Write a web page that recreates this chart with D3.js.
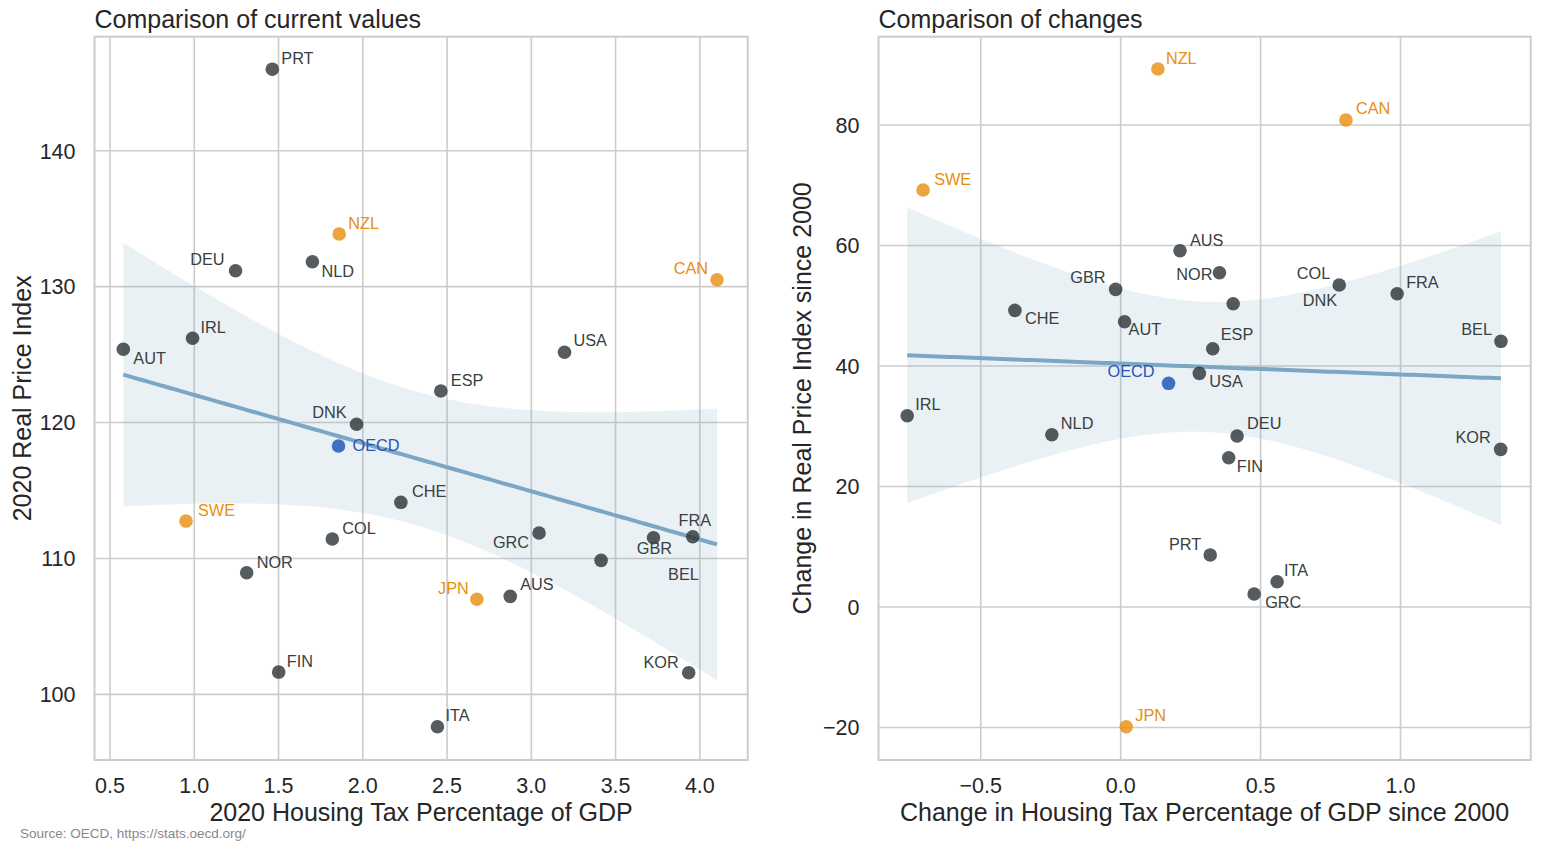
<!DOCTYPE html>
<html>
<head>
<meta charset="utf-8">
<script src="https://cdn.jsdelivr.net/npm/d3@7"></script>
<style>
  body { margin: 0; background: #fff; }
  svg { font-family: "Liberation Sans", Arial, sans-serif; }
</style>
</head>
<body>
<svg id="chart" width="1541" height="852"></svg>
<script>
// country codes, one row per point
const countries = ["AUS","AUT","BEL","CAN","CHE","COL","DEU","DNK","ESP","FIN","FRA","GBR",
  "GRC","IRL","ITA","JPN","KOR","NLD","NOR","NZL","PRT","SWE","USA","OECD"];

// left panel: 2020 levels
const taxGdp2020 = [2.875,0.579,3.414,4.102,2.226,1.819,1.245,1.963,2.463,1.501,3.958,3.725,
  3.046,0.990,2.443,2.677,3.934,1.701,1.311,1.860,1.463,0.951,3.197,1.856];
const realPrice2020 = [107.21,125.39,109.86,130.51,114.13,111.43,131.17,119.87,122.32,101.64,111.60,111.52,
  111.87,126.20,97.62,107.0,101.59,131.83,108.95,133.87,146.0,112.75,125.17,118.27];

// right panel: changes since 2000
const taxChange = [0.212,0.014,1.359,0.805,-0.378,0.781,0.416,0.402,0.329,0.386,0.988,-0.018,
  0.477,-0.763,0.559,0.020,1.358,-0.246,0.353,0.133,0.320,-0.706,0.281,0.171];
const priceChange = [59.14,47.35,44.10,80.83,49.24,53.44,28.38,50.34,42.87,24.78,52.00,52.73,
  2.16,31.75,4.20,-19.87,26.17,28.60,55.49,89.29,8.63,69.21,38.78,37.13];

const highlighted = ["NZL","CAN","SWE","JPN"];

const leftTicksX = [0.5,1.0,1.5,2.0,2.5,3.0,3.5,4.0];
const leftTicksY = [100,110,120,130,140];
const rightTicksX = [-0.5,0.0,0.5,1.0];
const rightTicksY = [-20,0,20,40,60,80];

// label nudges (like adjustText did), [dx, dy, anchor]
const leftLabelPos = {
  PRT:[9,-5,'start'], NZL:[9,-5,'start'], DEU:[-11,-6,'end'], NLD:[9,15,'start'],
  IRL:[8,-5,'start'], AUT:[10,15,'start'], DNK:[-10,-6,'end'], OECD:[14,5,'start'],
  ESP:[10,-5,'start'], CHE:[11,-5,'start'], SWE:[12,-5,'start'], COL:[10,-5,'start'],
  NOR:[10,-5,'start'], JPN:[-8,-5,'end'], GRC:[-10,15,'end'], GBR:[1,16,'middle'],
  BEL:[67,20,'start'], FRA:[2,-11,'middle'], KOR:[-10,-5,'end'], AUS:[10,-6,'start'],
  CAN:[-9,-6,'end'], USA:[9,-6,'start'], FIN:[8,-5,'start'], ITA:[8,-6,'start']
};
const rightLabelPos = {
  NZL:[8,-5,'start'], SWE:[11,-5,'start'], AUS:[10,-5,'start'], CAN:[10,-6,'start'],
  NOR:[-7,7,'end'], COL:[-9,-6,'end'], DNK:[104,2,'end'], FRA:[9,-6,'start'],
  BEL:[-9,-6,'end'], ESP:[8,-9,'start'], USA:[10,14,'start'], OECD:[-14,-6,'end'],
  DEU:[10,-7,'start'], FIN:[8,14,'start'], KOR:[-10,-6,'end'], GBR:[-10,-6,'end'],
  CHE:[10,14,'start'], AUT:[4,13,'start'], IRL:[8,-6,'start'], NLD:[9,-6,'start'],
  PRT:[-9,-5,'end'], ITA:[7,-6,'start'], GRC:[11,14,'start'], JPN:[9,-6,'start']
};

const svg = d3.select('#chart');
const plotTop = 36.7, plotBottom = 760;

function pointColor(c) {
  if (c === 'OECD') return '#184fb5';
  if (highlighted.includes(c)) return '#e78e0b';
  return '#2b3236';
}
function labelColor(c) {
  if (c === 'OECD') return '#2a55b8';
  if (highlighted.includes(c)) return '#e8900c';
  return '#3a3f42';
}
function fmt(v, digits) {
  return d3.format('.' + digits + 'f')(v).replace('-', '\u2212');
}

// simple OLS with 95% band, t(0.975, 22) ~ 2.074
function regression(xs, ys) {
  const n = xs.length;
  const mx = d3.mean(xs), my = d3.mean(ys);
  let sxx = 0, sxy = 0;
  for (let i = 0; i < n; i++) {
    sxx += (xs[i] - mx) ** 2;
    sxy += (xs[i] - mx) * (ys[i] - my);
  }
  const b = sxy / sxx, a = my - b * mx;
  let sse = 0;
  for (let i = 0; i < n; i++) sse += (ys[i] - a - b * xs[i]) ** 2;
  const s = Math.sqrt(sse / (n - 2));
  const t = 2.074;
  const [x0, x1] = d3.extent(xs);
  return d3.range(0, 101).map(k => {
    const x = x0 + (x1 - x0) * k / 100;
    const yhat = a + b * x;
    const se = s * Math.sqrt(1 / n + (x - mx) ** 2 / sxx);
    return {x: x, y: yhat, lo: yhat - t * se, hi: yhat + t * se};
  });
}

function panel(opts) {
  const x = d3.scaleLinear().domain(opts.xDomain).range([opts.left, opts.right]);
  const y = d3.scaleLinear().domain(opts.yDomain).range([plotBottom, plotTop]);
  const g = svg.append('g');

  // grid
  g.selectAll('.gx').data(opts.ticksX).enter().append('line')
    .attr('x1', d => x(d)).attr('x2', d => x(d))
    .attr('y1', plotTop).attr('y2', plotBottom)
    .attr('stroke', '#cccccc').attr('stroke-width', 1.6);
  g.selectAll('.gy').data(opts.ticksY).enter().append('line')
    .attr('x1', opts.left).attr('x2', opts.right)
    .attr('y1', d => y(d)).attr('y2', d => y(d))
    .attr('stroke', '#cccccc').attr('stroke-width', 1.6);

  // tick labels
  g.selectAll('.tx').data(opts.ticksX).enter().append('text')
    .attr('x', d => x(d)).attr('y', 793)
    .attr('text-anchor', 'middle').attr('font-size', 21.5).attr('fill', '#262626')
    .text(d => fmt(d, 1));
  g.selectAll('.ty').data(opts.ticksY).enter().append('text')
    .attr('x', opts.left - 19).attr('y', d => y(d) + 7.8)
    .attr('text-anchor', 'end').attr('font-size', 21.5).attr('fill', '#262626')
    .text(d => fmt(d, 0));

  // regression band + line
  const reg = regression(opts.xs, opts.ys);
  g.append('path').datum(reg)
    .attr('d', d3.area().x(d => x(d.x)).y0(d => y(d.lo)).y1(d => y(d.hi)))
    .attr('fill', '#7ba7c2').attr('fill-opacity', 0.16);
  g.append('path').datum(reg)
    .attr('d', d3.line().x(d => x(d.x)).y(d => y(d.y)))
    .attr('fill', 'none').attr('stroke', '#7ba7c2').attr('stroke-width', 4);

  // points
  const rows = countries.map((c, i) => ({c: c, x: opts.xs[i], y: opts.ys[i]}));
  g.selectAll('.pt').data(rows).enter().append('circle')
    .attr('cx', d => x(d.x)).attr('cy', d => y(d.y)).attr('r', 6.8)
    .attr('fill', d => pointColor(d.c)).attr('fill-opacity', 0.8);

  g.selectAll('.lbl').data(rows).enter().append('text')
    .attr('x', d => x(d.x) + opts.labels[d.c][0])
    .attr('y', d => y(d.y) + opts.labels[d.c][1])
    .attr('text-anchor', d => opts.labels[d.c][2])
    .attr('font-size', 16.3).attr('fill', d => labelColor(d.c))
    .text(d => d.c);

  // spines
  g.append('rect')
    .attr('x', opts.left).attr('y', plotTop)
    .attr('width', opts.right - opts.left).attr('height', plotBottom - plotTop)
    .attr('fill', 'none').attr('stroke', '#cccccc').attr('stroke-width', 2);

  // titles + axis labels
  g.append('text').attr('x', opts.left).attr('y', 28)
    .attr('font-size', 25).attr('fill', '#262626').text(opts.title);
  g.append('text').attr('x', (opts.left + opts.right) / 2).attr('y', 821)
    .attr('text-anchor', 'middle').attr('font-size', 25).attr('fill', '#262626')
    .text(opts.xLabel);
  g.append('text')
    .attr('transform', `translate(${opts.yLabelX},${(plotTop + plotBottom) / 2}) rotate(-90)`)
    .attr('text-anchor', 'middle').attr('font-size', 25).attr('fill', '#262626')
    .text(opts.yLabel);
}

panel({
  left: 94.5, right: 747.7,
  xDomain: [0.408, 4.284], yDomain: [95.17, 148.39],
  ticksX: leftTicksX, ticksY: leftTicksY,
  xs: taxGdp2020, ys: realPrice2020, labels: leftLabelPos,
  title: 'Comparison of current values',
  xLabel: '2020 Housing Tax Percentage of GDP',
  yLabel: '2020 Real Price Index', yLabelX: 31
});

panel({
  left: 878.5, right: 1530.7,
  xDomain: [-0.8655, 1.4653], yDomain: [-25.39, 94.66],
  ticksX: rightTicksX, ticksY: rightTicksY,
  xs: taxChange, ys: priceChange, labels: rightLabelPos,
  title: 'Comparison of changes',
  xLabel: 'Change in Housing Tax Percentage of GDP since 2000',
  yLabel: 'Change in Real Price Index since 2000', yLabelX: 811
});

svg.append('text').attr('x', 20).attr('y', 838)
  .attr('font-size', 13.5).attr('fill', '#888888')
  .text('Source: OECD, https://stats.oecd.org/');
</script>
</body>
</html>
